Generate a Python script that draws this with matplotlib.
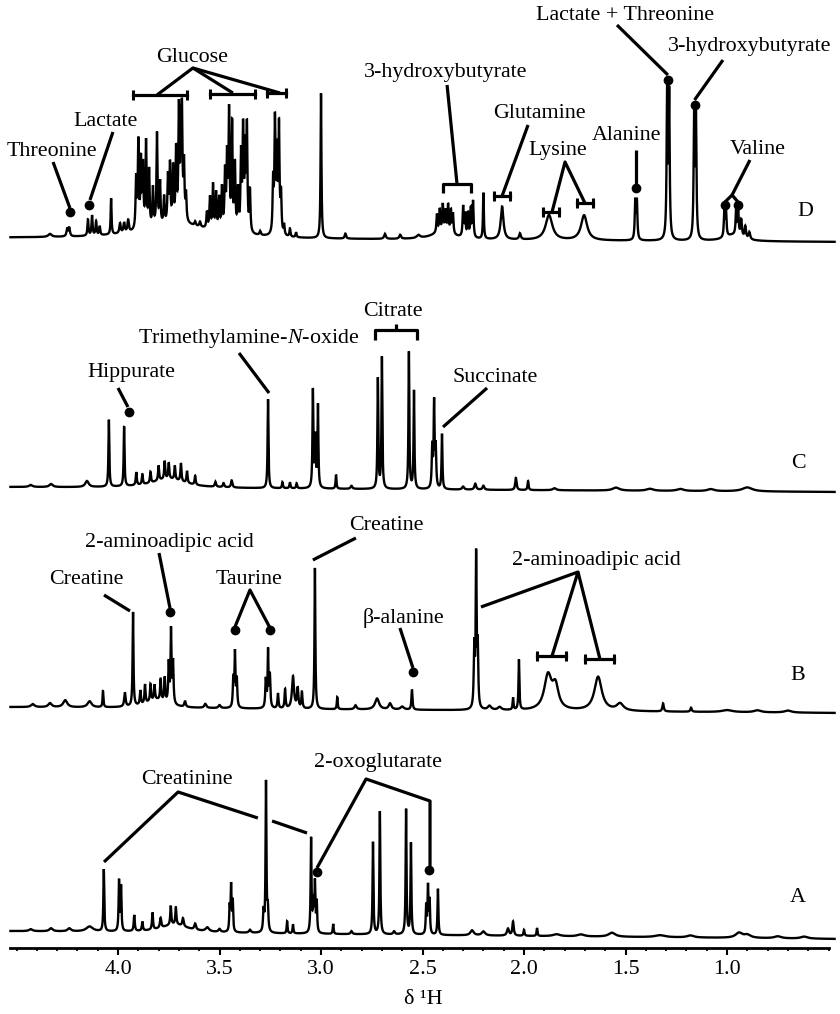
import numpy as np
import matplotlib.pyplot as plt

plt.rcParams['font.family'] = ['Liberation Serif', 'DejaVu Serif']
plt.rcParams['mathtext.fontset'] = 'custom'
plt.rcParams['mathtext.rm'] = 'Liberation Serif'
plt.rcParams['mathtext.it'] = 'Liberation Serif:italic'

# ---------------------------------------------------------------- data
# Each spectrum: peak chemical shift (ppm), peak height, half width (ppm)

# A
a_shift = [4.43, 4.33, 4.24, 4.14, 4.07, 3.995, 3.985, 3.92, 3.88, 3.83, 3.79, 3.74, 3.715,
           3.72, 3.68, 3.62, 3.56, 3.50, 3.45, 3.443, 3.435, 3.35, 3.283, 3.271, 3.262, 3.167,
           3.138, 3.049, 3.038, 3.03, 3.021, 2.94, 2.85, 2.744, 2.71, 2.64, 2.581, 2.557, 2.482,
           2.473, 2.465, 2.424, 2.256, 2.20, 2.079, 2.054, 2.0, 1.936, 1.84, 1.72, 1.567,
           1.33, 1.18, 0.941, 0.90, 0.75, 0.62]
a_height = [2, 3, 3, 5, 62, 50, 44, 16, 9, 17, 10, 19, 17,
            8, 8, 6, 4, 3, 24, 45, 30, 3, 20, 150, 22, 12,
            9, 94, 30, 48, 30, 10, 3, 92, 123, 3, 125, 91, 28,
            47, 33, 46, 5, 4, 7, 14, 6, 8, 2, 2, 4,
            2, 2, 5, 3, 2, 2]
a_hwhm = [0.01, 0.01, 0.01, 0.02, 0.0025, 0.0025, 0.0025, 0.003, 0.003, 0.003, 0.004, 0.003, 0.003,
          0.08, 0.004, 0.005, 0.01, 0.006, 0.0025, 0.0025, 0.0025, 0.006, 0.003, 0.0025, 0.003, 0.0025,
          0.0025, 0.0025, 0.003, 0.0025, 0.0025, 0.0025, 0.005, 0.0025, 0.0025, 0.005, 0.0025, 0.0025, 0.0025,
          0.0025, 0.0025, 0.0025, 0.01, 0.01, 0.006, 0.004, 0.003, 0.0025, 0.02, 0.02, 0.02,
          0.03, 0.02, 0.02, 0.02, 0.02, 0.02]

# B
b_shift = [4.42, 4.335, 4.26, 4.14, 4.074, 3.966, 3.926, 3.89, 3.867, 3.84, 3.82, 3.79, 3.77,
           3.81, 3.75, 3.739, 3.729, 3.67, 3.57, 3.50, 3.432, 3.424, 3.415, 3.272, 3.261,
           3.252, 3.212, 3.177, 3.138, 3.115, 3.094, 3.03, 2.92, 2.83, 2.724, 2.66, 2.60,
           2.552, 2.245, 2.236, 2.228, 2.17, 2.12, 2.054, 2.025, 1.882, 1.845, 1.635,
           1.527, 1.315, 1.177, 1.0, 0.85, 0.7]
b_height = [3, 4, 7, 6, 16, 14, 94, 14, 19, 17, 15, 21, 24,
            8, 40, 72, 42, 6, 4, 3, 28, 53, 28, 28, 56,
            32, 15, 19, 32, 20, 16, 141, 12, 4, 11, 6, 3,
            20, 60, 148, 60, 4, 3, 12, 50, 34, 22, 34,
            7, 8, 4, 2, 2, 2]
b_hwhm = [0.01, 0.01, 0.012, 0.012, 0.0025, 0.004, 0.0025, 0.003, 0.003, 0.003, 0.003, 0.003, 0.003,
          0.06, 0.003, 0.0025, 0.003, 0.004, 0.006, 0.006, 0.003, 0.0025, 0.003, 0.003, 0.0025,
          0.003, 0.003, 0.003, 0.006, 0.004, 0.003, 0.0025, 0.0025, 0.006, 0.012, 0.008, 0.01,
          0.003, 0.003, 0.0025, 0.003, 0.01, 0.01, 0.0025, 0.0025, 0.022, 0.018, 0.022,
          0.02, 0.004, 0.004, 0.03, 0.02, 0.02]

# C
c_shift = [4.43, 4.33, 4.153, 4.045, 3.97, 3.91, 3.88, 3.84, 3.80, 3.77, 3.75, 3.72, 3.69,
           3.66, 3.62, 3.75, 3.52, 3.48, 3.44, 3.261, 3.19, 3.153, 3.12, 3.04, 3.028,
           3.015, 2.926, 2.85, 2.72, 2.70, 2.567, 2.542, 2.452, 2.443, 2.435, 2.404, 2.30, 2.24,
           2.2, 2.04, 1.98, 1.85, 1.547, 1.38, 1.23, 1.08, 0.9]
c_height = [2, 3, 6, 67, 60, 13, 10, 11, 15, 18, 16, 14, 18,
            12, 9, 9, 5, 4, 7, 89, 6, 6, 5, 97, 50,
            82, 14, 3, 110, 131, 137, 98, 40, 83, 40, 55, 3, 6,
            4, 12, 9, 2, 3, 2, 2, 2, 4]
c_hwhm = [0.01, 0.01, 0.01, 0.0025, 0.0025, 0.003, 0.003, 0.003, 0.003, 0.003, 0.003, 0.003, 0.003,
          0.003, 0.003, 0.1, 0.004, 0.004, 0.004, 0.0025, 0.003, 0.003, 0.003, 0.0025, 0.003,
          0.0025, 0.0025, 0.005, 0.0025, 0.0025, 0.0025, 0.0025, 0.003, 0.0025, 0.003, 0.0025, 0.006, 0.005,
          0.005, 0.004, 0.003, 0.01, 0.02, 0.02, 0.02, 0.02, 0.03]

# D
d_shift = [4.335, 4.25, 4.24, 4.148, 4.128, 4.108, 4.09, 4.034, 3.99, 3.97, 3.95, 3.70,
           3.911, 3.90, 3.887, 3.877, 3.862, 3.847, 3.828, 3.808, 3.793, 3.773, 3.754,
           3.744, 3.729, 3.714, 3.70, 3.69, 3.685, 3.675, 3.665, 3.62, 3.596,
           3.562, 3.547, 3.532, 3.517, 3.502, 3.488, 3.473, 3.463, 3.453, 3.438, 3.424,
           3.409, 3.394, 3.384, 3.374, 3.365, 3.35, 3.30, 3.236, 3.227, 3.217, 3.207,
           3.197, 3.182, 3.153, 3.123, 3.0, 2.88, 2.685, 2.61, 2.52, 2.429, 2.415, 2.40,
           2.387, 2.374, 2.36, 2.35, 2.30, 2.29, 2.276, 2.262, 2.251, 2.20, 2.40, 2.108,
           2.02, 1.877, 1.704, 1.452, 1.444, 1.295, 1.285, 1.162, 1.153, 1.013, 1.005,
           0.955, 0.945, 0.93, 0.91, 0.89, 0.97]
d_height = [3, 8, 8, 16, 20, 14, 9, 36, 10, 10, 12, 14,
            50, 86, 66, 60, 85, 56, 38, 92, 42, 27, 46,
            57, 54, 70, 110, 80, 94, 55, 26, 4, 5,
            16, 31, 44, 36, 31, 41, 56, 70, 116, 105, 64,
            40, 75, 99, 79, 103, 41, 4, 50, 111, 78, 106,
            38, 10, 8, 5, 145, 5, 5, 4, 3, 18, 22, 26,
            20, 27, 22, 20, 30, 22, 24, 28, 36, 46, 8, 33,
            6, 25, 25, 38, 38, 146, 143, 121, 118, 27, 25,
            27, 25, 17, 12, 7, 6]
d_hwhm = [0.01, 0.004, 0.004, 0.003, 0.003, 0.003, 0.003, 0.0025, 0.004, 0.004, 0.004, 0.2,
          0.003, 0.003, 0.003, 0.003, 0.003, 0.003, 0.003, 0.003, 0.003, 0.003, 0.003,
          0.003, 0.003, 0.003, 0.003, 0.003, 0.003, 0.003, 0.003, 0.004, 0.004,
          0.003, 0.003, 0.003, 0.003, 0.003, 0.003, 0.003, 0.003, 0.003, 0.003, 0.003,
          0.003, 0.003, 0.003, 0.003, 0.003, 0.003, 0.004, 0.003, 0.003, 0.003, 0.003,
          0.003, 0.003, 0.003, 0.003, 0.0025, 0.004, 0.005, 0.005, 0.01, 0.003, 0.003, 0.003,
          0.003, 0.003, 0.003, 0.003, 0.003, 0.003, 0.003, 0.003, 0.003, 0.0025, 0.06, 0.008,
          0.005, 0.02, 0.018, 0.003, 0.003, 0.003, 0.003, 0.003, 0.003, 0.003, 0.003,
          0.003, 0.003, 0.004, 0.004, 0.005, 0.05]

tick_values = [4.0, 3.5, 3.0, 2.5, 2.0, 1.5, 1.0]
tick_labels = ['4.0', '3.5', '3.0', '2.5', '2.0', '1.5', '1.0']

# ---------------------------------------------------------------- layout
X_LEFT, X_RIGHT = 4.5813, 0.4434
FIG_H = 1014
# baseline rows (left end, right end) for each trace, top to bottom
BASE = {'D': (238, 242), 'C': (487, 492), 'B': (707, 713), 'A': (931, 939)}
AXIS_ROW = 948
FS = 15.8
LW_SPEC = 1.7
LW_LEAD = 2.3

fig = plt.figure(figsize=(8.4, 10.14), dpi=100)
ax = fig.add_axes([0, 0, 1, 1])
ax.set_xlim(X_LEFT, X_RIGHT)
ax.set_ylim(FIG_H, 0)

shift_axis = np.linspace(X_LEFT, X_RIGHT, 16000)


def lorentz_sum(shifts, heights, hwhm):
    s = np.asarray(shifts, float)[:, None]
    h = np.asarray(heights, float)[:, None]
    w = np.asarray(hwhm, float)[:, None]
    return (h / (1.0 + ((shift_axis - s) / w) ** 2)).sum(axis=0)


def draw_trace(key, shifts, heights, hwhm):
    left, right = BASE[key]
    frac = (X_LEFT - shift_axis) / (X_LEFT - X_RIGHT)
    base = left + (right - left) * frac
    y = base - lorentz_sum(shifts, heights, hwhm)
    keep = (shift_axis <= 4.53) & (shift_axis >= 0.47)
    ax.plot(shift_axis[keep], y[keep], color='black', lw=LW_SPEC,
            solid_joinstyle='miter')


draw_trace('D', d_shift, d_height, d_hwhm)
draw_trace('C', c_shift, c_height, c_hwhm)
draw_trace('B', b_shift, b_height, b_hwhm)
draw_trace('A', a_shift, a_height, a_hwhm)


# ---------------------------------------------------------------- annotation helpers
def lead(xs, ys):
    ax.plot(xs, ys, color='black', lw=LW_LEAD, solid_capstyle='butt')


def blob(x, y):
    ax.plot([x], [y], ls='none', marker='o', ms=6, color='black')


def capped_bar(x0, x1, y):
    ax.plot([x0, x1], [y, y], color='black', lw=LW_LEAD)
    ax.plot([x0, x1], [y, y], ls='none', marker='|', ms=7, mew=2.2, color='black')


def label(x, y, s):
    ax.text(x, y, s, ha='center', va='center', fontsize=FS)


# ---- D
label(3.636, 58, 'Glucose')
lead([3.808, 3.631, 3.434], [95, 68, 93])
lead([3.631, 3.202], [68, 93])
capped_bar(3.926, 3.660, 95)
capped_bar(3.547, 3.325, 94)
capped_bar(3.266, 3.172, 93)

label(4.325, 152, 'Threonine')
lead([4.32, 4.237], [162, 208])
blob(4.237, 212)
label(4.059, 122, 'Lactate')
lead([4.025, 4.138], [132, 200])
blob(4.143, 205)

label(2.384, 72, '3-hydroxybutyrate')
lead([2.379, 2.33], [85, 184])
lead([2.399, 2.399, 2.261, 2.261], [193, 184, 184, 193])

label(1.926, 113, 'Glutamine')
lead([1.980, 2.108], [125, 196])
capped_bar(2.148, 2.069, 196)

label(1.833, 150, 'Lysine')
lead([1.862, 1.798, 1.700], [212, 162, 203])
capped_bar(1.907, 1.828, 212)
capped_bar(1.739, 1.660, 203)

label(1.493, 135, 'Alanine')
lead([1.450, 1.450], [150, 185])
blob(1.450, 188)

label(1.502, 15, 'Lactate + Threonine')
lead([1.542, 1.291], [25, 75])
blob(1.290, 80)

label(0.887, 47, '3-hydroxybutyrate')
lead([1.020, 1.160], [60, 100])
blob(1.160, 105)

label(0.847, 150, 'Valine')
lead([0.887, 0.975], [160, 195])
lead([1.010, 0.975, 0.946], [202, 195, 202])
blob(1.010, 205)
blob(0.946, 205)

label(0.616, 212, 'D')

# ---- C
label(2.645, 311, 'Citrate')
lead([2.734, 2.734, 2.527, 2.527], [340, 330, 330, 340])
lead([2.631, 2.631], [330, 324])
label(3.355, 339, 'Trimethylamine-$N$-oxide')
lead([3.404, 3.256], [353, 393])
label(3.936, 372, 'Hippurate')
lead([4.0, 3.951], [388, 407])
blob(3.946, 412)
label(2.143, 377, 'Succinate')
lead([2.182, 2.399], [388, 427])
label(0.650, 463, 'C')

# ---- B
label(4.158, 580, 'Creatine')
lead([4.069, 3.941], [595, 611])
label(3.749, 542, '2-aminoadipic acid')
lead([3.798, 3.744], [553, 608])
blob(3.744, 612)
label(3.355, 579, 'Taurine')
lead([3.424, 3.350, 3.251], [627, 590, 628])
blob(3.424, 630)
blob(3.251, 630)
label(2.680, 525, 'Creatine')
lead([2.828, 3.040], [538, 560])
label(2.596, 618, 'β-alanine')
lead([2.611, 2.547], [628, 668])
blob(2.547, 672)
label(1.645, 560, '2-aminoadipic acid')
lead([2.212, 1.734, 1.862], [607, 572, 656])
lead([1.734, 1.626], [572, 659])
capped_bar(1.936, 1.793, 656)
capped_bar(1.700, 1.557, 659)
label(0.650, 675, 'B')

# ---- A
label(3.660, 780, 'Creatinine')
lead([4.069, 3.704, 3.311], [862, 792, 818])
lead([3.241, 3.069], [821, 833])
label(2.719, 763, '2-oxoglutarate')
lead([3.020, 2.778, 2.463, 2.463], [868, 779, 801, 866])
blob(3.020, 872)
blob(2.468, 870)
label(0.650, 897, 'A')

# ---------------------------------------------------------------- axis
for side in ('top', 'left', 'right'):
    ax.spines[side].set_visible(False)
ax.spines['bottom'].set_position(('data', AXIS_ROW))
ax.spines['bottom'].set_bounds(0.498, 4.532)
ax.spines['bottom'].set_linewidth(2.0)
ax.set_xticks(tick_values)
ax.set_xticklabels(tick_labels)
ax.set_xticks(np.round(np.arange(0.5, 4.51, 0.1), 1), minor=True)
ax.tick_params(axis='x', which='major', direction='out', length=5, width=1.5,
               labelsize=FS, pad=4)
ax.tick_params(axis='x', which='minor', direction='out', length=2.5, width=1.3)
ax.set_yticks([])
ax.text(2.4976, 1000, 'δ ¹H', ha='center', va='center', fontsize=FS)

fig.savefig('out.png', dpi=100)
